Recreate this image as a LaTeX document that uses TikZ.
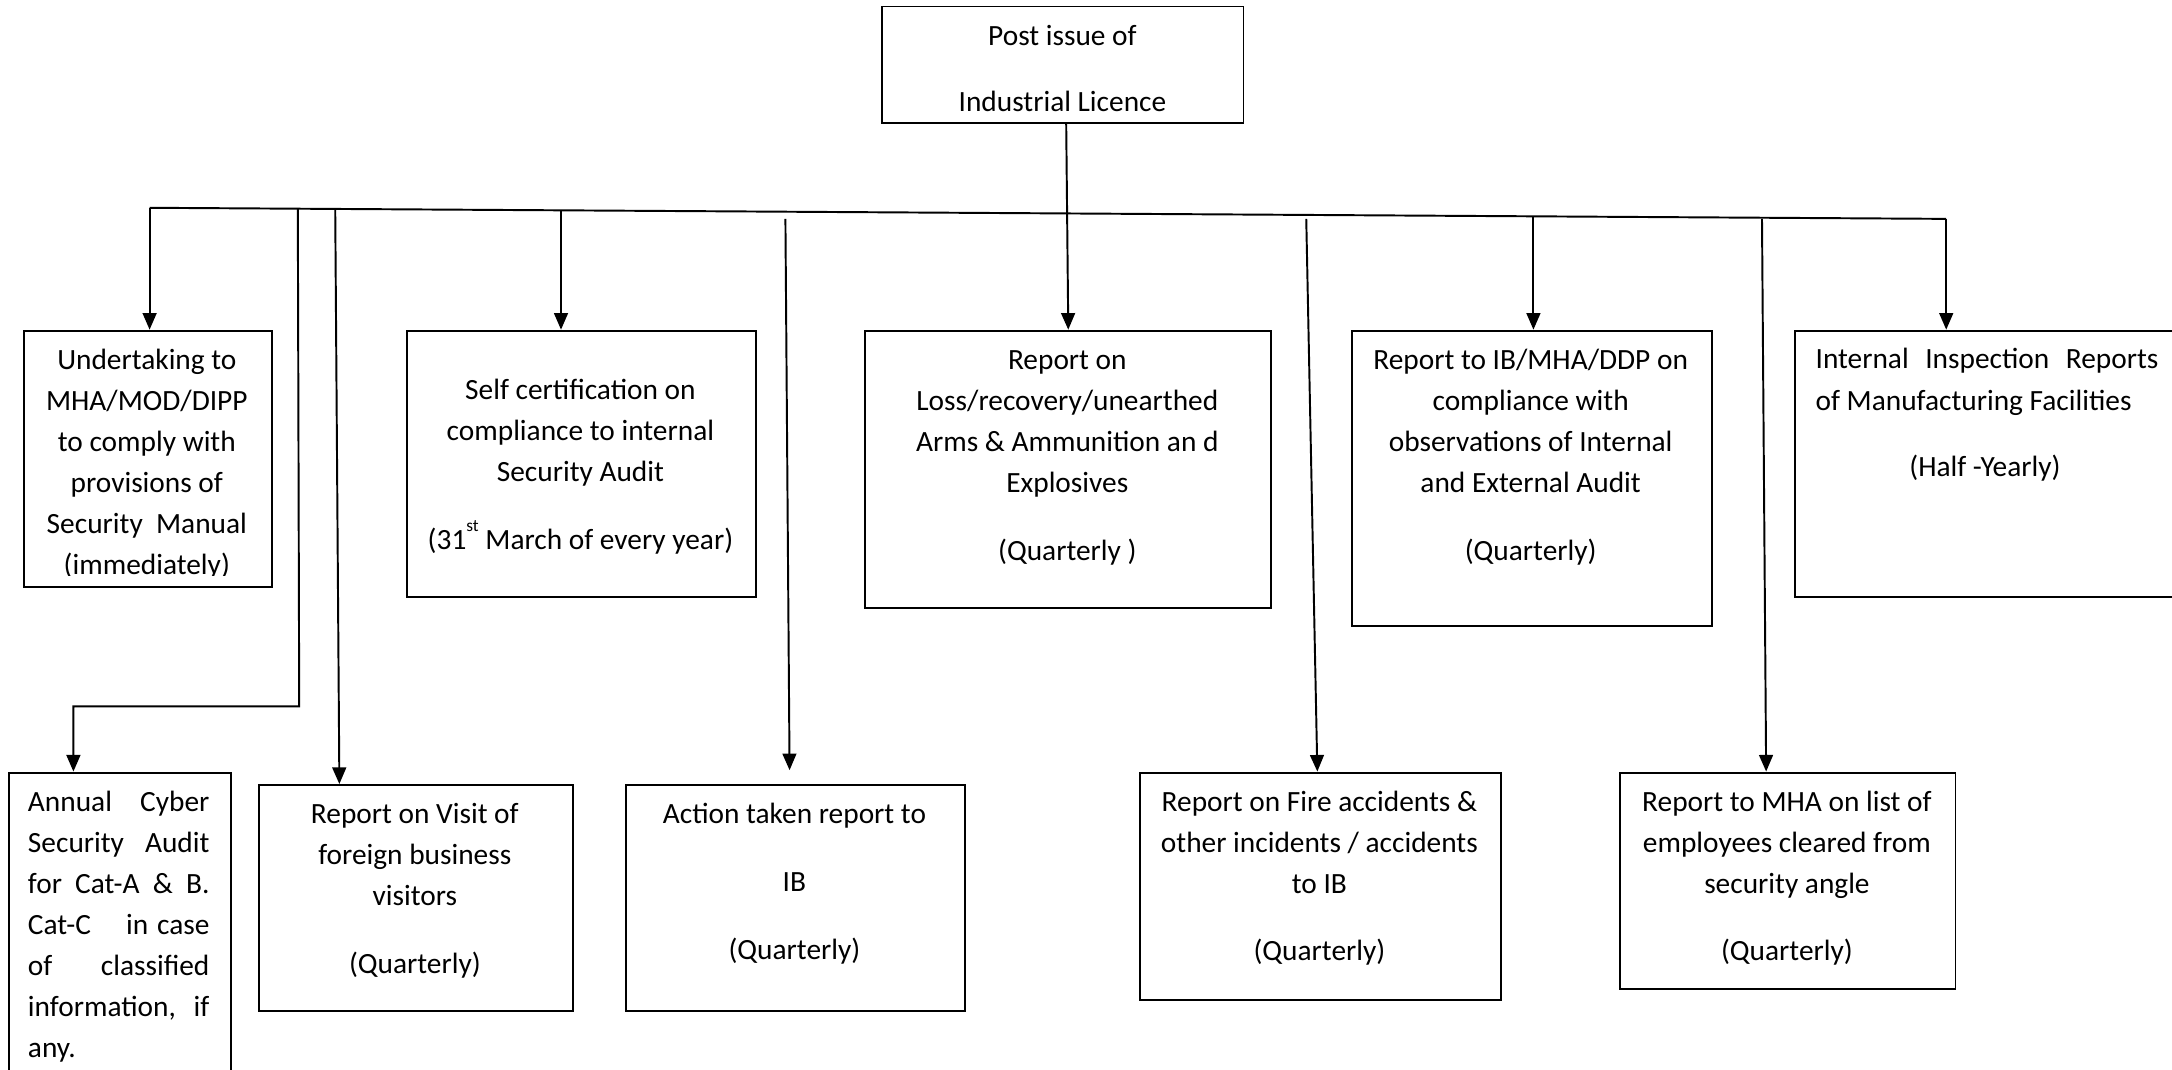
\documentclass[tikz,border=0pt]{standalone}
\usepackage{fontspec}
\setmainfont{Carlito}
\usetikzlibrary{arrows.meta}
\newcommand\bodyfont{\fontsize{21.2pt}{29.6pt}\selectfont}
\newcommand\ctext[2]{\parbox[t]{#1}{\centering #2}}
\newcommand\jline[2]{\makebox[#1][s]{#2}}
\newcommand\supst{\raisebox{0.62em}{\fontsize{12.5pt}{12.5pt}\selectfont st}}
\begin{document}
\begin{tikzpicture}[x=1pt,y=-1pt,
  box/.style={draw, line width=1.4pt, inner sep=0, anchor=north west},
  txt/.style={inner sep=0, anchor=base, font=\bodyfont},
  conn/.style={line width=1.4pt},
  arr/.style={line width=1.4pt, -{Triangle[length=12pt,width=10pt]}}]
\useasboundingbox (0,0) rectangle (1568,772);
% boxes
\node[box, minimum width=261pt, minimum height=84pt] (top) at (636,4) {};
\node[box, minimum width=179pt, minimum height=185pt] (u1) at (16.4,238) {};
\node[box, minimum width=252pt, minimum height=192pt] (sc) at (293,238) {};
\node[box, minimum width=293pt, minimum height=200pt] (loss) at (624,238) {};
\node[box, minimum width=260pt, minimum height=213pt] (ib) at (975,238) {};
\node[box, minimum width=285pt, minimum height=192pt] (iir) at (1295,238) {};
\node[box, minimum width=160pt, minimum height=228pt] (cyber) at (6,557) {};
\node[box, minimum width=227pt, minimum height=163pt] (visit) at (186,566) {};
\node[box, minimum width=245pt, minimum height=163pt] (atr) at (451,566) {};
\node[box, minimum width=261pt, minimum height=164pt] (fire) at (822,557) {};
\node[box, minimum width=242pt, minimum height=156pt] (mha) at (1169,557) {};
% texts
\node[txt] (ttop) at (767,32.5) {\ctext{261pt}{Post issue of\\[18.5pt]Industrial Licence}};
\begin{scope}
\clip (16,238) rectangle (195,415.5);
\node[txt] (tu1) at (106,266.6) {\ctext{179pt}{Undertaking to\\MHA/MOD/DIPP\\to comply with\\provisions of\\Security~ Manual\\(immediately)}};
\end{scope}
\node[txt] (tsc) at (419,288.5) {\ctext{252pt}{Self certification on\\compliance to internal\\Security Audit\\[19.4pt](31\supst{} March of every year)}};
\node[txt] (tloss) at (770.5,266.7) {\ctext{293pt}{Report on\\Loss/recovery/unearthed\\Arms \& Ammunition an d\\Explosives\\[19.4pt](Quarterly )}};
\node[txt] (tib) at (1105,266.7) {\ctext{260pt}{Report to IB/MHA/DDP on\\compliance with\\observations of Internal\\and External Audit\\[19.4pt](Quarterly)}};
\node[txt, anchor=base west] (tiir1) at (1310.5,266) {\jline{247.5pt}{Internal\hfill Inspection\hfill Reports}};
\node[txt, anchor=base west] (tiir2) at (1310.5,296) {of Manufacturing Facilities};
\node[txt] (tiir3) at (1433,344) {(Half -Yearly)};
\node[txt, anchor=base west] (tcy) at (20,585.5) {\parbox[t]{131pt}{%
  \jline{131pt}{Annual\hfill Cyber}\\
  \jline{131pt}{Security\hfill Audit}\\
  \jline{131pt}{for\hfill Cat-A\hfill \&\hfill B.}\\
  \jline{131pt}{Cat-C\hfill in\hspace{0.3em}case}\\
  \jline{131pt}{of\hfill classified}\\
  \jline{131pt}{information,\hfill if}\\
  any.}};
\node[txt] (tvisit) at (299.5,594.5) {\ctext{227pt}{Report on Visit of\\foreign business\\visitors\\[19.4pt](Quarterly)}};
\node[txt] (tatr) at (573.5,594.5) {\ctext{245pt}{Action taken report to\\[19.4pt]IB\\[19.4pt](Quarterly)}};
\node[txt] (tfire) at (952.5,585.5) {\ctext{261pt}{Report on Fire accidents \&\\other incidents / accidents\\to IB\\[19.4pt](Quarterly)}};
\node[txt] (tmha) at (1290,585.5) {\ctext{242pt}{Report to MHA on list of\\employees cleared from\\security angle\\[19.4pt](Quarterly)}};
% bus and junction points
\coordinate (busL) at (108,150);
\coordinate (busR) at (1405,158);
\coordinate (jcy) at (215,150.7);
\coordinate (jcyb) at (216,510);
\coordinate (jcyc) at (53,510);
\coordinate (jvi) at (242,150.8);
\coordinate (jsc) at (405,151.8);
\coordinate (jat) at (567,158);
\coordinate (eat) at (570,556);
\coordinate (jfi) at (943,158);
\coordinate (jib) at (1107,156.2);
\coordinate (jmh) at (1272,158);
% connectors
\draw[arr] ([xshift=2.5pt]top.south) -- (loss.north);
\draw[conn] (busL) -- (busR);
\draw[arr] (busL) -- (busL |- u1.north);
\draw[arr] (busR) -- (busR |- iir.north);
\draw[arr] (jsc) -- (jsc |- sc.north);
\draw[arr] (jib) -- (jib |- ib.north);
\draw[arr] (jcy) -- (jcyb) -- (jcyc) -- (jcyc |- cyber.north);
\draw[arr] (jvi) -- ([xshift=3pt]jvi |- visit.north);
\draw[arr] (jat) -- (eat);
\draw[arr] (jfi) -- ([xshift=8pt]jfi |- fire.north);
\draw[arr] (jmh) -- ([xshift=3pt]jmh |- mha.north);
\end{tikzpicture}
\end{document}
